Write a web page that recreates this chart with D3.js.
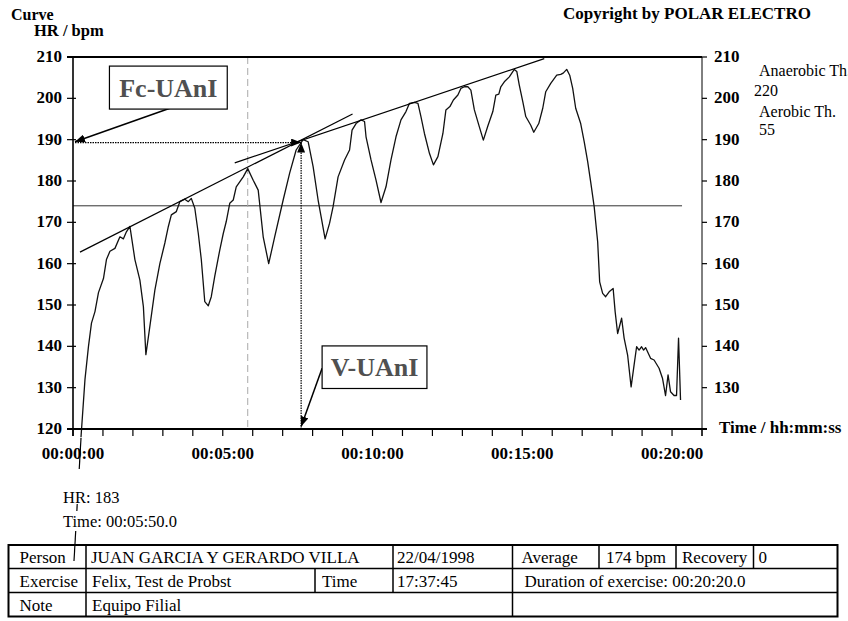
<!DOCTYPE html>
<html>
<head>
<meta charset="utf-8">
<script src="https://d3js.org/d3.v7.min.js"></script>
<style>
  body { margin: 0; background: #fff; }
  text { font-family: "Liberation Serif", "Times New Roman", serif; }
</style>
</head>
<body>
<div id="chart"></div>
<script>
// Heart rate curve (Polar export) - HR / bpm against elapsed seconds
var hrTime = [16,24,31,37,44,51,61,67,74,84,94,101,107,114,124,134,141,146,153,164,174,184,191,197,207,214,224,231,237,244,
  251,257,264,271,277,284,294,301,307,314,321,327,334,341,350,361,371,381,392,404,421,434,447,461,471,481,491,497,505,514,
  521,531,544,554,559,567,577,584,587,597,607,617,627,637,647,657,667,674,684,691,697,704,714,722,731,741,747,755,762,771,
  777,784,791,797,804,814,822,831,841,847,853,857,864,874,884,889,894,901,907,917,923,933,941,947,957,969,977,982,989,995,
  1001,1007,1017,1024,1031,1037,1044,1051,1055,1061,1067,1074,1082,1086,1091,1099,1104,1111,1118,1124,1129,1134,1139,1143,1147,1157,
  1164,1174,1181,1187,1192,1197,1204,1209,1213,1217];
var hrValue = [118,132,140,145.6,148.4,153,156.4,161,163,163.7,166.5,166,167.7,169,161,156,149.6,138,144,153.6,160,165,169,171.8,172.6,175,175.6,175,175.8,173.4,
  167.3,161,150.8,149.8,152,157,163.3,167.3,170.2,174.6,175.4,178.6,179.8,181,183,180.2,177.8,166.5,160,166.5,175.4,181.9,187.5,190,189.5,183.5,175.4,171.4,166,169.8,
  173.8,181,185.1,187.5,192.3,193.9,194.8,194.4,190.7,185.1,180.2,174.8,178.6,185.1,190.7,194.8,196.8,198.8,199,198.8,195.6,191.5,186.7,183.9,185.9,191.5,197.2,198,199.6,200.8,
  202.4,202.8,202.8,202,197.2,193.1,189.9,193.3,196.8,200.8,201,202.8,204,205.2,207,206.5,203.2,199.2,195.6,193.5,191.8,193.9,197.6,201.6,203.6,205.6,205.8,206.1,207,205.6,
  202.4,197.6,193.9,189.5,184.7,179.8,173.8,165.3,155.6,152.8,152,153.2,154,148.4,143.1,146.8,142,137.9,130.2,135.5,139.9,139.1,139.9,139.1,139.7,137.1,
  136.7,134.7,132.2,128.1,133.1,129,128.1,128.1,142,127];

var yTicks = [120, 130, 140, 150, 160, 170, 180, 190, 200, 210];
var xLabelTimes = [0, 300, 600, 900, 1200];
var xLabels = ["00:00:00", "00:05:00", "00:10:00", "00:15:00", "00:20:00"];
var averageHR = 174, durationSec = 1220;
var cursorTime = 350, cursorHR = 183;

// tangent lines (time, hr) and the threshold point they meet at
var tangentA = [[14, 162.8], [560, 196.2]];
var tangentB = [[324, 184.4], [944, 209.6]];
var threshold = { t: 457, hr: 189.3 };

var sideLabels = ["Anaerobic Th.", "220", "Aerobic Th.", "55"];
var tableRows = [
  ["Person", "JUAN GARCIA Y GERARDO VILLA", "22/04/1998", "Average", "174 bpm", "Recovery", "0"],
  ["Exercise", "Felix, Test de Probst", "Time", "17:37:45", "Duration of exercise: 00:20:20.0"],
  ["Note", "Equipo Filial", ""]
];

var width = 848, height = 621;
var plot = { left: 73, right: 702, top: 57, bottom: 429 };

var svg = d3.select("#chart").append("svg")
    .attr("width", width)
    .attr("height", height);

var x = d3.scaleLinear().domain([0, 1260]).range([plot.left, plot.right]);
var y = d3.scaleLinear().domain([120, 210]).range([plot.bottom, plot.top]);

var defs = svg.append("defs");
defs.append("marker")
    .attr("id", "arrow")
    .attr("viewBox", "0 0 10 8")
    .attr("refX", 10).attr("refY", 4)
    .attr("markerWidth", 10).attr("markerHeight", 8)
    .attr("markerUnits", "userSpaceOnUse")
    .attr("orient", "auto")
  .append("path")
    .attr("d", "M0,0 L10,4 L0,8 Z")
    .attr("fill", "#000");

// Headers
svg.append("text").attr("x", 11).attr("y", 20)
    .style("font-weight", "bold").style("font-size", "16px").text("Curve");
svg.append("text").attr("x", 34).attr("y", 36)
    .style("font-weight", "bold").style("font-size", "16.5px").text("HR / bpm");
svg.append("text").attr("x", 563).attr("y", 19)
    .style("font-weight", "bold").style("font-size", "17px").text("Copyright by POLAR ELECTRO");

// Average HR line
svg.append("line")
    .attr("x1", x(0)).attr("x2", x(durationSec))
    .attr("y1", y(averageHR)).attr("y2", y(averageHR))
    .style("stroke", "#333").style("stroke-width", 1);

// Cursor line (5:50)
svg.append("line")
    .attr("x1", x(cursorTime)).attr("x2", x(cursorTime))
    .attr("y1", plot.top).attr("y2", plot.bottom)
    .style("stroke", "#aaa").style("stroke-width", 1)
    .style("stroke-dasharray", "7,4");

// HR curve
var line = d3.line()
    .x(function(d) { return x(d[0]); })
    .y(function(d) { return y(d[1]); });

svg.append("path")
    .datum(d3.zip(hrTime, hrValue))
    .attr("d", line)
    .style("fill", "none")
    .style("stroke", "#111")
    .style("stroke-width", 1.3)
    .style("stroke-linejoin", "round");

// Tangents
[tangentA, tangentB].forEach(function(t) {
  svg.append("path")
      .attr("d", line(t))
      .style("fill", "none")
      .style("stroke", "#000")
      .style("stroke-width", 1.2);
});

// Dotted threshold guides
svg.append("line")
    .attr("x1", x(4)).attr("x2", x(threshold.t))
    .attr("y1", y(threshold.hr)).attr("y2", y(threshold.hr))
    .attr("marker-end", "url(#arrow)")
    .style("stroke", "#000").style("stroke-width", 1.2)
    .style("stroke-dasharray", "1.5,1");
svg.append("line")
    .attr("x1", x(threshold.t)).attr("x2", x(threshold.t))
    .attr("y1", y(120)).attr("y2", y(threshold.hr))
    .attr("marker-end", "url(#arrow)")
    .style("stroke", "#000").style("stroke-width", 1.2)
    .style("stroke-dasharray", "1.5,1");

// Axes frame
svg.append("line").attr("x1", plot.left - 6).attr("x2", plot.right)
    .attr("y1", plot.top).attr("y2", plot.top)
    .style("stroke", "#000").style("stroke-width", 2);
svg.append("line").attr("x1", plot.left - 6).attr("x2", plot.right + 5)
    .attr("y1", plot.bottom).attr("y2", plot.bottom)
    .style("stroke", "#000").style("stroke-width", 2);
svg.append("line").attr("x1", plot.left).attr("x2", plot.left)
    .attr("y1", plot.top).attr("y2", plot.bottom + 7)
    .style("stroke", "#000").style("stroke-width", 1.6);
svg.append("line").attr("x1", plot.right).attr("x2", plot.right)
    .attr("y1", plot.top).attr("y2", plot.bottom + 7)
    .style("stroke", "#000").style("stroke-width", 1);

// Y ticks both sides
var yt = svg.append("g").selectAll("g").data(yTicks).enter().append("g");
yt.append("line")
    .attr("x1", plot.left - 6).attr("x2", plot.left + 3)
    .attr("y1", function(d) { return y(d); }).attr("y2", function(d) { return y(d); })
    .style("stroke", "#000").style("stroke-width", 1.2);
yt.append("line")
    .attr("x1", plot.right).attr("x2", plot.right + 5)
    .attr("y1", function(d) { return y(d); }).attr("y2", function(d) { return y(d); })
    .style("stroke", "#000").style("stroke-width", 1.2);
yt.append("text")
    .attr("x", 62).attr("y", function(d) { return y(d) + 5; })
    .style("text-anchor", "end").style("font-weight", "bold").style("font-size", "17px")
    .text(function(d) { return d; });
yt.append("text")
    .attr("x", 714).attr("y", function(d) { return y(d) + 5; })
    .style("font-weight", "bold").style("font-size", "17px")
    .text(function(d) { return d === 120 ? "" : d; });

// X ticks each minute
svg.append("g").selectAll("line").data(d3.range(0, 1261, 60)).enter().append("line")
    .attr("x1", function(d) { return x(d); }).attr("x2", function(d) { return x(d); })
    .attr("y1", plot.bottom).attr("y2", plot.bottom + 7)
    .style("stroke", "#000").style("stroke-width", 1.2);
svg.append("g").selectAll("text").data(xLabelTimes).enter().append("text")
    .attr("x", function(d) { return x(d); }).attr("y", 459)
    .style("text-anchor", "middle").style("font-weight", "bold").style("font-size", "17px")
    .text(function(d, i) { return xLabels[i]; });
svg.append("text").attr("x", 719).attr("y", 433)
    .style("font-weight", "bold").style("font-size", "17px").text("Time / hh:mm:ss");

// Side labels
var sideY = [76, 96, 117, 135], sideX = [759, 754, 759, 759];
svg.append("g").selectAll("text").data(sideLabels).enter().append("text")
    .attr("x", function(d, i) { return sideX[i]; })
    .attr("y", function(d, i) { return sideY[i]; })
    .style("font-size", "16px")
    .text(function(d) { return d; });

// Annotation boxes
function labelBox(t0, t1, h0, h1, label, fromT, fromH, toT, toH) {
  svg.append("line")
      .attr("x1", x(fromT)).attr("y1", y(fromH))
      .attr("x2", x(toT)).attr("y2", y(toH))
      .attr("marker-end", "url(#arrow)")
      .style("stroke", "#000").style("stroke-width", 1.5);
  svg.append("rect")
      .attr("x", x(t0)).attr("y", y(h0))
      .attr("width", x(t1) - x(t0)).attr("height", y(h1) - y(h0))
      .style("fill", "#fff").style("stroke", "#000").style("stroke-width", 1.2);
  svg.append("text")
      .attr("x", (x(t0) + x(t1)) / 2).attr("y", (y(h0) + y(h1)) / 2 + 9)
      .style("text-anchor", "middle").style("font-weight", "bold")
      .style("font-size", "26px").style("fill", "#505050")
      .text(label);
}
labelBox(73, 309, 207.8, 197.4, "Fc-UAnI", 194, 197.6, 4, 189.5);
labelBox(499, 709, 140.1, 129.8, "V-UAnI", 499, 134.7, 457, 120.6);

// Cursor readout below the axis
svg.append("line")
    .attr("x1", 81).attr("y1", 438).attr("x2", 74).attr("y2", 561)
    .style("stroke", "#000").style("stroke-width", 1.2);
svg.append("rect").attr("x", 62).attr("y", 469).attr("width", 60).attr("height", 35).style("fill", "#fff");
svg.append("rect").attr("x", 62).attr("y", 511).attr("width", 120).attr("height", 20).style("fill", "#fff");
svg.append("text").attr("x", 63).attr("y", 503).style("font-size", "16.5px")
    .text("HR: " + cursorHR);
svg.append("text").attr("x", 63).attr("y", 527).style("font-size", "16.5px")
    .text("Time: 00:05:50.0");

// Info table
var rowTop = [545, 568.5, 592.5, 616.5];
var rowEdges = [
  [8.5, 86, 393, 512.5, 599, 676, 753.5, 837.5],
  [8.5, 86, 315, 393, 512.5, 837.5],
  [8.5, 86, 512.5, 837.5]
];
var rowPad = [
  [11, 5, 4, 9, 7, 6, 5],
  [11, 6, 7, 4, 12],
  [11, 6, 0]
];
var table = svg.append("g");
table.append("rect")
    .attr("x", 8.5).attr("y", rowTop[0])
    .attr("width", 829).attr("height", rowTop[3] - rowTop[0])
    .style("fill", "none").style("stroke", "#000").style("stroke-width", 2);
[1, 2].forEach(function(r) {
  table.append("line").attr("x1", 8.5).attr("x2", 837.5)
      .attr("y1", rowTop[r]).attr("y2", rowTop[r])
      .style("stroke", "#000").style("stroke-width", 1.5);
});
tableRows.forEach(function(cells, r) {
  var edges = rowEdges[r];
  edges.slice(1, -1).forEach(function(ex) {
    table.append("line").attr("x1", ex).attr("x2", ex)
        .attr("y1", rowTop[r]).attr("y2", rowTop[r + 1])
        .style("stroke", "#000").style("stroke-width", 1.5);
  });
  cells.forEach(function(c, i) {
    table.append("text")
        .attr("x", edges[i] + rowPad[r][i])
        .attr("y", rowTop[r + 1] - 6)
        .style("font-size", "17px")
        .text(c);
  });
});
</script>
</body>
</html>
